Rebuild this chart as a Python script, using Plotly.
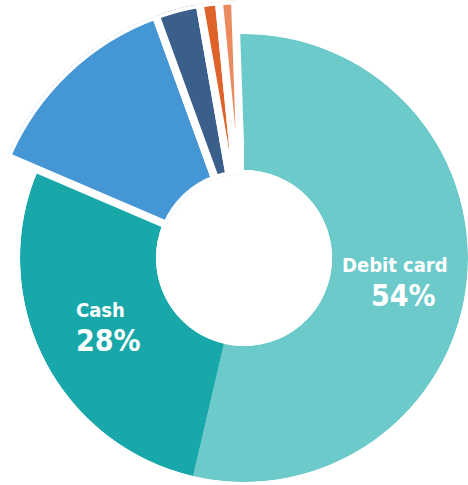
import math

import plotly.graph_objects as go

# data
segments = ["Debit card", "Cash", "Segment 3", "Segment 4", "Segment 5", "Segment 6"]
shares = [54.2, 27.8, 13.0, 2.8, 1.2, 1.0]
shown_labels = ["Debit card", "Cash"]
colors = ["#6ccaca", "#18a8aa", "#4497d4", "#3a5f8b", "#e0622b", "#ea8a5e"]

# geometry (pixels) of the reference
W, H = 468, 485
CX, CY = 244, 258
R_IN = 88        # hole radius
R_MAIN = 224     # debit / cash ring
R_SMALL = 258    # the smaller, taller segments
GAP = 8          # white gap around the small segments
START = -2       # first slice starts just left of 12 o'clock

# label block centres (px)
LABEL_POS = [(399, 280), (104, 325)]

total = sum(shares)
spans = [v / total * 360 for v in shares]
starts, acc = [], START
for s in spans:
    starts.append(acc)
    acc += s
mids = [a + s / 2 for a, s in zip(starts, spans)]


def px_x(p):
    return p / W


def px_y(p):
    return 1 - p / H


fig = go.Figure()

# main ring: debit card + cash
fig.add_trace(go.Barpolar(
    r=[1, 1], theta=mids[:2], width=spans[:2],
    marker=dict(color=colors[:2], line=dict(width=0)),
    subplot="polar", hoverinfo="skip", showlegend=False,
))
# outer ring: remaining small segments, separated by white gaps
fig.add_trace(go.Barpolar(
    r=[1] * 4, theta=mids[2:], width=spans[2:],
    marker=dict(color=colors[2:], line=dict(width=GAP, color="white")),
    subplot="polar2", hoverinfo="skip", showlegend=False,
))

axis_off = dict(visible=False, showgrid=False, showline=False, showticklabels=False, ticks="")

# polar 1: full circle
d1x = [px_x(CX - R_MAIN), px_x(CX + R_MAIN)]
d1y = [px_y(CY + R_MAIN), px_y(CY - R_MAIN)]

# polar 2: sector 90..160 deg, bbox [-cos20, 0, 0, 1]
bx0 = -math.cos(math.radians(20))
d2x = [px_x(CX + bx0 * R_SMALL), px_x(CX)]
d2y = [px_y(CY), px_y(CY - R_SMALL)]

fig.update_layout(
    width=W, height=H,
    margin=dict(l=0, r=0, t=0, b=0),
    paper_bgcolor="white", plot_bgcolor="white",
    polar=dict(
        domain=dict(x=d1x, y=d1y), hole=R_IN / R_MAIN, bgcolor="rgba(0,0,0,0)",
        radialaxis=dict(range=[0, 1], **axis_off),
        angularaxis=dict(direction="clockwise", rotation=90, **axis_off),
    ),
    polar2=dict(
        domain=dict(x=d2x, y=d2y), sector=[90, 160],
        hole=(R_IN - GAP / 2) / R_SMALL, bgcolor="rgba(0,0,0,0)",
        radialaxis=dict(range=[0, 1], **axis_off),
        angularaxis=dict(direction="clockwise", rotation=90, **axis_off),
    ),
)

font = "DejaVu Sans Condensed, Liberation Sans Narrow, Arial Narrow, sans-serif"
for i, name in enumerate(shown_labels):
    lx, ly = LABEL_POS[i]
    fig.add_annotation(
        x=px_x(lx - 4), y=px_y(ly - 15), xref="paper", yref="paper",
        text=name, showarrow=False, xanchor="center", yanchor="middle",
        font=dict(family=font, size=20, color="white", weight="bold"),
    )
    fig.add_annotation(
        x=px_x(lx + 4), y=px_y(ly + 15), xref="paper", yref="paper",
        text=f"{round(shares[i])}%", showarrow=False, xanchor="center", yanchor="middle",
        font=dict(family=font, size=30, color="white", weight="bold"),
    )

fig.write_html("out.html", config={"displayModeBar": False},
               post_script="document.body.style.margin='0';")
